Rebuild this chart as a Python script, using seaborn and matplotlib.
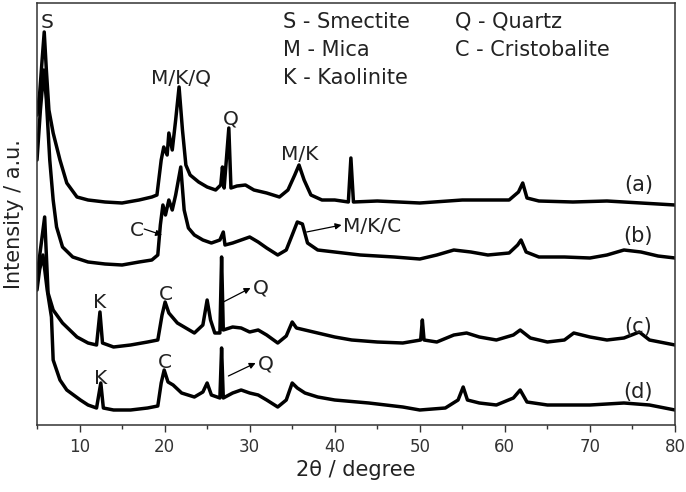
import matplotlib
matplotlib.use("Agg")
import matplotlib.pyplot as plt
import seaborn as sns
import pandas as pd

# ---- data (2theta in degree, intensity in a.u., traces offset as drawn) ----
a_x = [5.0, 5.3, 5.6, 5.85, 6.1, 6.4, 6.9, 7.7, 8.5, 9.7, 11, 13, 15, 17, 18.5, 19.1, 19.6, 19.9,
       20.3, 20.5, 20.9, 21.3, 21.7, 22.1, 22.5, 23.0, 24, 25, 26, 26.6, 26.8, 27.0, 27.55, 27.8,
       28.5, 29.5, 30.5, 32, 33.5, 34.5, 35.3, 35.8, 36.4, 37.2, 38.5, 40, 41.6, 41.9, 42.2, 45,
       50, 55, 58, 60.5, 61.6, 62.1, 62.6, 64, 68, 72, 76, 80]
a_y = [310, 330, 365, 393, 355, 315, 292, 265, 242, 228, 225, 223, 222, 225, 228, 230, 265, 278,
       270, 292, 275, 305, 338, 295, 260, 250, 243, 238, 235, 240, 258, 237, 297, 237,
       239, 240, 235, 232, 228, 235, 250, 260, 245, 230, 225, 225, 223, 267, 223, 224,
       222, 225, 225, 225, 233, 242, 227, 224, 223, 224, 222, 220]

b_x = [5.0, 5.4, 5.8, 6.1, 6.5, 6.9, 7.3, 8.0, 9.2, 11, 13, 15, 17, 18.5, 19.2, 19.5, 19.8, 20.1,
       20.5, 20.9, 21.3, 21.9, 22.3, 22.8, 23.5, 24.5, 25.5, 26.5, 26.9, 27.1, 28, 29, 30, 31, 32,
       33.3, 34.3, 35.0, 35.6, 36.2, 36.8, 38, 40, 43, 47, 50, 52, 54, 56, 58, 60.5, 61.5, 61.9,
       62.5, 64, 67, 70, 72, 74, 76, 78, 80]
b_y = [265, 315, 355, 325, 265, 225, 198, 178, 168, 163, 161, 160, 163, 165, 170, 200, 220, 210,
       225, 215, 230, 258, 215, 197, 190, 185, 182, 185, 193, 180, 182, 185, 188, 183, 177,
       170, 175, 190, 203, 201, 182, 175, 173, 170, 168, 166, 170, 175, 173, 170, 172, 180, 185,
       173, 168, 168, 167, 170, 175, 173, 169, 167]

c_x = [5.0, 5.4, 5.9, 6.3, 6.9, 8.0, 9.7, 11, 12.0, 12.4, 12.7, 14, 16, 18, 19.2, 19.7, 20.06,
       20.5, 21, 21.5, 22.5, 23.5, 24.5, 25.0, 25.4, 25.9, 26.5, 26.7, 26.9, 28, 29, 30, 31, 32,
       33.3, 34.3, 35.0, 35.5, 36.5, 38, 40, 42, 45, 48, 50.1, 50.3, 50.5, 52, 54, 55.5, 57, 59,
       61, 61.8, 63, 65, 67, 68.1, 70, 72, 74, 75.8, 77, 80]
c_y = [148, 175, 208, 132, 115, 102, 88, 82, 80, 113, 82, 78, 80, 83, 85, 110, 123,
       112, 107, 102, 97, 92, 100, 125, 105, 92, 92, 168, 95, 98, 97, 93, 95, 90,
       82, 89, 103, 97, 95, 92, 88, 85, 83, 82, 85, 105, 85, 83, 90, 92, 88, 85,
       90, 95, 87, 83, 85, 92, 88, 85, 87, 93, 85, 80]

d_x = [5.0, 5.3, 5.7, 6.2, 6.7, 6.9, 7.7, 8.5, 10.1, 11, 12.0, 12.5, 12.8, 14, 16, 18, 19.2, 19.6,
       19.95, 20.4, 21, 22, 23.5, 24.5, 25.0, 25.5, 26.5, 26.7, 26.9, 28, 29, 30, 31, 32, 33.3,
       34.3, 35.0, 35.6, 36.5, 38, 40, 44, 48, 50, 53, 54.5, 55.1, 55.6, 57, 59, 61, 61.8, 62.6,
       65, 70, 74, 77, 80]
d_y = [135, 155, 170, 135, 108, 65, 45, 35, 25, 20, 17, 42, 17, 15, 15, 17, 19, 42,
       55, 43, 40, 32, 28, 33, 42, 30, 27, 77, 27, 32, 35, 32, 30, 25, 18,
       25, 42, 37, 32, 28, 25, 22, 18, 15, 17, 25, 38, 25, 22, 20, 27, 35, 23,
       20, 20, 22, 20, 15]

series = {"(a)": (a_x, a_y), "(b)": (b_x, b_y), "(c)": (c_x, c_y), "(d)": (d_x, d_y)}

frames = []
for name, (xs, ys) in series.items():
    frames.append(pd.DataFrame({"two_theta": xs, "intensity": ys, "sample": name}))
df = pd.concat(frames, ignore_index=True)

sns.set_theme(style="ticks")
plt.rcParams["font.family"] = ["DejaVu Sans"]

fig = plt.figure(figsize=(6.86, 4.92), dpi=100)
ax = fig.add_axes([37 / 686, 67 / 492, (675 - 37) / 686, (425 - 3) / 492])

for name in series:
    sns.lineplot(data=df[df["sample"] == name], x="two_theta", y="intensity", ax=ax,
                 color="black", lw=2.5, sort=False, estimator=None, legend=False)

ax.set_xlim(5, 80)
ax.set_ylim(0, 422)
ax.set_xticks(range(10, 81, 10))
ax.set_xticks(range(5, 81, 5), minor=True)
ax.set_yticks([])
ax.tick_params(axis="x", which="major", direction="out", length=5, width=1, labelsize=12,
               labelcolor="#333333", color="#333333", pad=4)
ax.tick_params(axis="x", which="minor", direction="out", length=3, width=1, color="#333333")
for s in ax.spines.values():
    s.set_visible(True)
    s.set_linewidth(1.1)
    s.set_color("#333333")
ax.set_xlabel("2θ / degree", fontsize=15, color="#222222", labelpad=3)
ax.set_ylabel("Intensity / a.u.", fontsize=15, color="#222222", labelpad=9)

fs = 14.5
tc = "#222222"
# legend-like text
for txt, yy in [("S - Smectite", 403), ("M - Mica", 375), ("K - Kaolinite", 347)]:
    ax.text(33.9, yy, txt, fontsize=15, color=tc, va="center", ha="left")
for txt, yy in [("Q - Quartz", 403), ("C - Cristobalite", 375)]:
    ax.text(54.1, yy, txt, fontsize=15, color=tc, va="center", ha="left")

# peak labels
for txt, x, y in [("S", 6.2, 402), ("M/K/Q", 21.9, 347), ("Q", 27.8, 306), ("M/K", 35.9, 271),
                  ("K", 12.4, 123), ("C", 20.2, 131), ("K", 12.5, 47), ("C", 20.0, 62)]:
    ax.text(x, y, txt, fontsize=fs, color=tc, ha="center", va="center")
for txt, y in [("(a)", 240), ("(b)", 189), ("(c)", 98), ("(d)", 33)]:
    ax.text(75.7, y, txt, fontsize=15, color=tc, ha="center", va="center")

arrow = dict(arrowstyle="-|>", color="black", lw=0.9, mutation_scale=9, shrinkA=0, shrinkB=0)
ax.annotate("", xy=(19.7, 190), xytext=(17.6, 196), arrowprops=arrow)
ax.text(16.7, 195, "C", fontsize=fs, color=tc, ha="center", va="center")
ax.annotate("", xy=(40.8, 200), xytext=(36.7, 193), arrowprops=arrow)
ax.text(41.0, 199, "M/K/C", fontsize=fs, color=tc, ha="left", va="center")
ax.annotate("", xy=(30.1, 137), xytext=(26.9, 123), arrowprops=arrow)
ax.text(30.4, 137, "Q", fontsize=fs, color=tc, ha="left", va="center")
ax.annotate("", xy=(30.7, 62), xytext=(27.5, 49), arrowprops=arrow)
ax.text(31.0, 61, "Q", fontsize=fs, color=tc, ha="left", va="center")

fig.savefig("out.png", dpi=100)
